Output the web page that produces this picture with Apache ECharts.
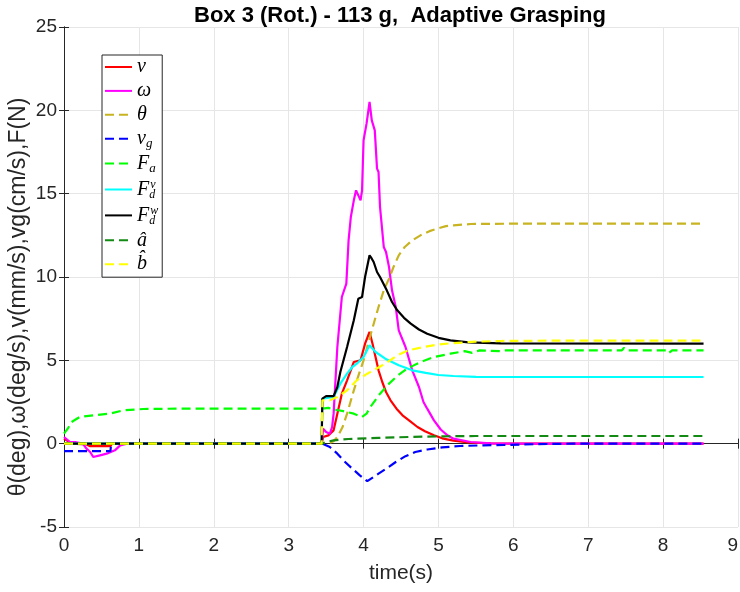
<!DOCTYPE html>
<html>
<head>
<meta charset="utf-8">
<title>Box 3 (Rot.) - 113 g, Adaptive Grasping</title>
<script src="https://cdn.jsdelivr.net/npm/echarts@6/dist/echarts.min.js"></script>
<style>
  html, body { margin: 0; padding: 0; background: #fff; }
  #chart { width: 740px; height: 592px; }
</style>
</head>
<body>
<div id="chart"></div>
<script>
// Axis ticks
const xTicks = [0, 1, 2, 3, 4, 5, 6, 7, 8, 9];
const yTicks = [-5, 0, 5, 10, 15, 20, 25];

// Series as [time (s), value] pairs
const vLin = [[0,0.3],[0.05,0.15],[0.1,0],[0.3,-0.05],[0.35,-0.15],[0.62,-0.15],[0.64,0],[3.44,0],[3.46,0.4],[3.53,0.5],[3.6,0.8],[3.65,1.8],[3.71,3.0],[3.78,3.8],[3.87,4.9],[3.96,5.0],[4.02,6.0],[4.08,6.7],[4.12,6.0],[4.16,5.2],[4.2,4.4],[4.25,3.7],[4.3,3.1],[4.36,2.6],[4.44,2.1],[4.52,1.7],[4.62,1.35],[4.72,1.0],[4.82,0.75],[4.94,0.5],[5.05,0.32],[5.2,0.18],[5.4,0.07],[5.7,0.02],[6.0,0],[8.54,0]];

const omega = [[0,0.4],[0.08,0.1],[0.15,0.1],[0.25,0],[0.3,-0.3],[0.35,-0.5],[0.39,-0.8],[0.48,-0.7],[0.57,-0.6],[0.68,-0.4],[0.75,-0.1],[0.84,0],[3.44,0],[3.46,0.9],[3.5,0.7],[3.55,0.6],[3.58,1.0],[3.6,1.8],[3.65,5.8],[3.71,8.8],[3.77,9.6],[3.8,12.2],[3.83,13.6],[3.87,14.6],[3.9,15.2],[3.93,14.9],[3.96,14.6],[3.98,15.2],[4.0,18.2],[4.04,19.2],[4.08,20.5],[4.11,19.4],[4.15,18.8],[4.18,16.5],[4.2,16.3],[4.22,14.2],[4.27,11.8],[4.3,11.5],[4.34,10.6],[4.38,9.2],[4.43,8.2],[4.47,6.8],[4.56,5.8],[4.65,4.4],[4.74,3.4],[4.8,2.5],[4.85,2.1],[4.94,1.4],[5.03,0.85],[5.12,0.5],[5.2,0.3],[5.43,0.1],[5.7,0.02],[6.0,0],[8.54,0]];

const theta = [[0,0],[3.5,0],[3.55,0.05],[3.6,0.15],[3.65,0.4],[3.72,1.0],[3.78,1.8],[3.87,3.2],[3.94,4.2],[4.0,5.0],[4.06,6.0],[4.11,6.8],[4.2,8.2],[4.27,9.2],[4.34,9.9],[4.4,10.6],[4.47,11.3],[4.55,11.8],[4.65,12.2],[4.76,12.5],[4.88,12.75],[4.98,12.9],[5.1,13.05],[5.2,13.1],[5.43,13.18],[6.0,13.2],[8.54,13.2]];

const vGrip = [[0,-0.45],[0.62,-0.45],[0.63,0],[3.45,0],[3.55,-0.2],[3.65,-0.6],[3.73,-1.0],[3.85,-1.5],[3.95,-1.9],[4.05,-2.25],[4.2,-1.8],[4.32,-1.45],[4.43,-1.1],[4.56,-0.75],[4.69,-0.5],[4.85,-0.35],[5.05,-0.22],[5.29,-0.14],[5.6,-0.1],[5.87,-0.08],[6.3,-0.03],[6.8,0],[8.54,0]];

const fApplied = [[0,0.6],[0.05,0.9],[0.1,1.3],[0.21,1.6],[0.39,1.7],[0.61,1.8],[0.79,2.0],[1.06,2.08],[1.5,2.1],[3.45,2.1],[3.53,2.15],[3.6,2.05],[3.73,1.95],[3.87,1.8],[3.98,1.6],[4.04,1.8],[4.09,2.2],[4.22,3.0],[4.34,3.6],[4.46,4.1],[4.58,4.5],[4.76,4.9],[4.94,5.2],[5.16,5.4],[5.35,5.55],[5.45,5.45],[5.55,5.6],[5.83,5.55],[5.9,5.6],[7.45,5.6],[7.48,5.75],[7.52,5.6],[8.06,5.6],[8.08,5.45],[8.12,5.6],[8.54,5.6]];

const fDesV = [[0,0],[3.44,0],[3.45,2.7],[3.6,2.8],[3.69,3.6],[3.78,4.2],[3.85,4.6],[3.91,4.8],[4.0,5.2],[4.08,5.9],[4.16,5.5],[4.29,5.1],[4.47,4.7],[4.65,4.4],[4.83,4.25],[5.0,4.12],[5.2,4.06],[5.5,4.01],[6.0,4.0],[8.54,4.0]];

const fDesW = [[0,0],[3.44,0],[3.45,2.7],[3.5,2.85],[3.6,2.85],[3.65,3.4],[3.69,4.3],[3.78,5.8],[3.87,7.4],[3.93,8.7],[3.98,8.8],[4.02,10.0],[4.08,11.3],[4.11,11.1],[4.135,10.9],[4.18,10.3],[4.22,10.0],[4.31,9.2],[4.38,8.5],[4.45,8.0],[4.54,7.55],[4.63,7.2],[4.74,6.85],[4.85,6.6],[5.0,6.35],[5.16,6.2],[5.4,6.08],[5.83,6.02],[8.54,6.0]];

const aHat = [[0,0],[3.45,0],[3.5,0.1],[3.6,0.2],[3.8,0.28],[4.2,0.35],[4.6,0.4],[5.0,0.44],[5.5,0.46],[8.54,0.46]];

const bHat = [[0,0],[3.44,0],[3.45,2.6],[3.55,2.6],[3.65,2.8],[3.78,3.2],[3.91,3.8],[4.05,4.2],[4.17,4.5],[4.29,4.8],[4.45,5.3],[4.6,5.6],[4.8,5.8],[5.0,5.95],[5.16,6.02],[5.5,6.12],[5.83,6.16],[6.5,6.18],[8.54,6.18]];

const seriesNames = ['v', 'ω', 'θ', 'vg', 'Fa', 'Fdv', 'Fdw', 'â', 'b̂'];
const seriesData = [vLin, omega, theta, vGrip, fApplied, fDesV, fDesW, aHat, bHat];
const seriesColors = ['#ff0000', '#ff00ff', '#c8b422', '#0000ff', '#00ff00', '#00ffff', '#000000', '#138a13', '#ffff00'];
const seriesDashed = [false, false, true, true, true, false, false, true, true];

// Legend labels written as rich text (italic math style)
const legendRich = {
  v: '{m|v}',
  'ω': '{m|ω}',
  'θ': '{m|θ}',
  vg: '{m|v}{sub|g}',
  Fa: '{m|F}{sub|a}',
  Fdv: '{m|F}{subn|d}{sup|v}',
  Fdw: '{m|F}{subn|d}{sup|w}',
  'â': '{m|â}',
  'b̂': '{m|b̂}'
};

const mathFont = '"Liberation Serif", "DejaVu Serif", serif';
const axisFont = '"Liberation Sans", Arial, sans-serif';
const ink = '#262626';

const chart = echarts.init(document.getElementById('chart'), null, { renderer: 'canvas' });

const series = seriesNames.map((name, i) => ({
  name: name,
  type: 'line',
  xAxisIndex: 0,
  yAxisIndex: 0,
  data: seriesData[i],
  showSymbol: false,
  symbol: 'none',
  animation: false,
  color: seriesColors[i],
  lineStyle: {
    color: seriesColors[i],
    width: 2.2,
    type: seriesDashed[i] ? [9, 5] : 'solid'
  },
  z: 2 + i
}));

const xMin = xTicks[0], xMax = xTicks[xTicks.length - 1], xStep = xTicks[1] - xTicks[0];
const yMin = yTicks[0], yMax = yTicks[yTicks.length - 1], yStep = yTicks[1] - yTicks[0];

const baseAxis = {
  type: 'value',
  axisLine: { show: true, lineStyle: { color: ink, width: 1 } },
  axisTick: { show: true, inside: true, length: 5, lineStyle: { color: ink } },
};

chart.setOption({
  animation: false,
  backgroundColor: '#ffffff',
  title: {
    text: 'Box 3 (Rot.) - 113 g,  Adaptive Grasping',
    left: 395,
    top: 0,
    textAlign: 'center',
    textStyle: { fontFamily: axisFont, fontSize: 22, fontWeight: 'bold', color: '#000' }
  },
  grid: { left: 64, right: 2, top: 27, bottom: 65, containLabel: false, outerBoundsMode: 'none' },
  legend: {
    orient: 'vertical',
    left: 102,
    top: 55,
    data: seriesNames,
    itemWidth: 27,
    itemHeight: 14,
    itemGap: 3.9,
    padding: [2, 4, 3, 2],
    backgroundColor: '#ffffff',
    borderColor: ink,
    borderWidth: 1,
    borderRadius: 0,
    selectedMode: false,
    itemStyle: { opacity: 0, borderWidth: 0 },
    formatter: name => legendRich[name],
    textStyle: {
      color: '#000',
      rich: {
        m: { fontFamily: mathFont, fontStyle: 'italic', fontSize: 20, lineHeight: 22, verticalAlign: 'middle' },
        sub: { fontFamily: mathFont, fontStyle: 'italic', fontSize: 13, lineHeight: 13, verticalAlign: 'bottom' },
        subn: { fontFamily: mathFont, fontStyle: 'italic', fontSize: 12, lineHeight: 10, verticalAlign: 'bottom', width: 1 },
        sup: { fontFamily: mathFont, fontStyle: 'italic', fontSize: 12, lineHeight: 10, verticalAlign: 'top' }
      }
    }
  },
  xAxis: [
    Object.assign({}, baseAxis, {
      position: 'bottom',
      min: xMin, max: xMax, interval: xStep,
      name: 'time(s)',
      nameLocation: 'middle',
      nameGap: 36,
      nameMoveOverlap: false,
      nameTextStyle: { fontFamily: axisFont, fontSize: 21, color: ink },
      axisLabel: { fontFamily: axisFont, fontSize: 19, color: ink, margin: 9, alignMaxLabel: 'right' },
      splitLine: { show: true, lineStyle: { color: '#e6e6e6', width: 1 } }
    }),
    Object.assign({}, baseAxis, {
      position: 'top',
      min: xMin, max: xMax, interval: xStep,
      axisLabel: { show: false },
      splitLine: { show: false }
    })
  ],
  yAxis: [
    Object.assign({}, baseAxis, {
      position: 'left',
      min: yMin, max: yMax, interval: yStep,
      name: 'θ(deg),ω(deg/s),v(mm/s),vg(cm/s),F(N)',
      nameLocation: 'middle',
      nameGap: 34,
      nameMoveOverlap: false,
      nameTextStyle: { fontFamily: axisFont, fontSize: 23, color: ink, padding: [0, 40, 0, 0] },
      axisLabel: { fontFamily: axisFont, fontSize: 19, color: ink, margin: 7 },
      splitLine: { show: true, lineStyle: { color: '#e6e6e6', width: 1 } }
    }),
    Object.assign({}, baseAxis, {
      position: 'right',
      min: yMin, max: yMax, interval: yStep,
      axisLabel: { show: false },
      splitLine: { show: false }
    })
  ],
  series: series
});
</script>
</body>
</html>
